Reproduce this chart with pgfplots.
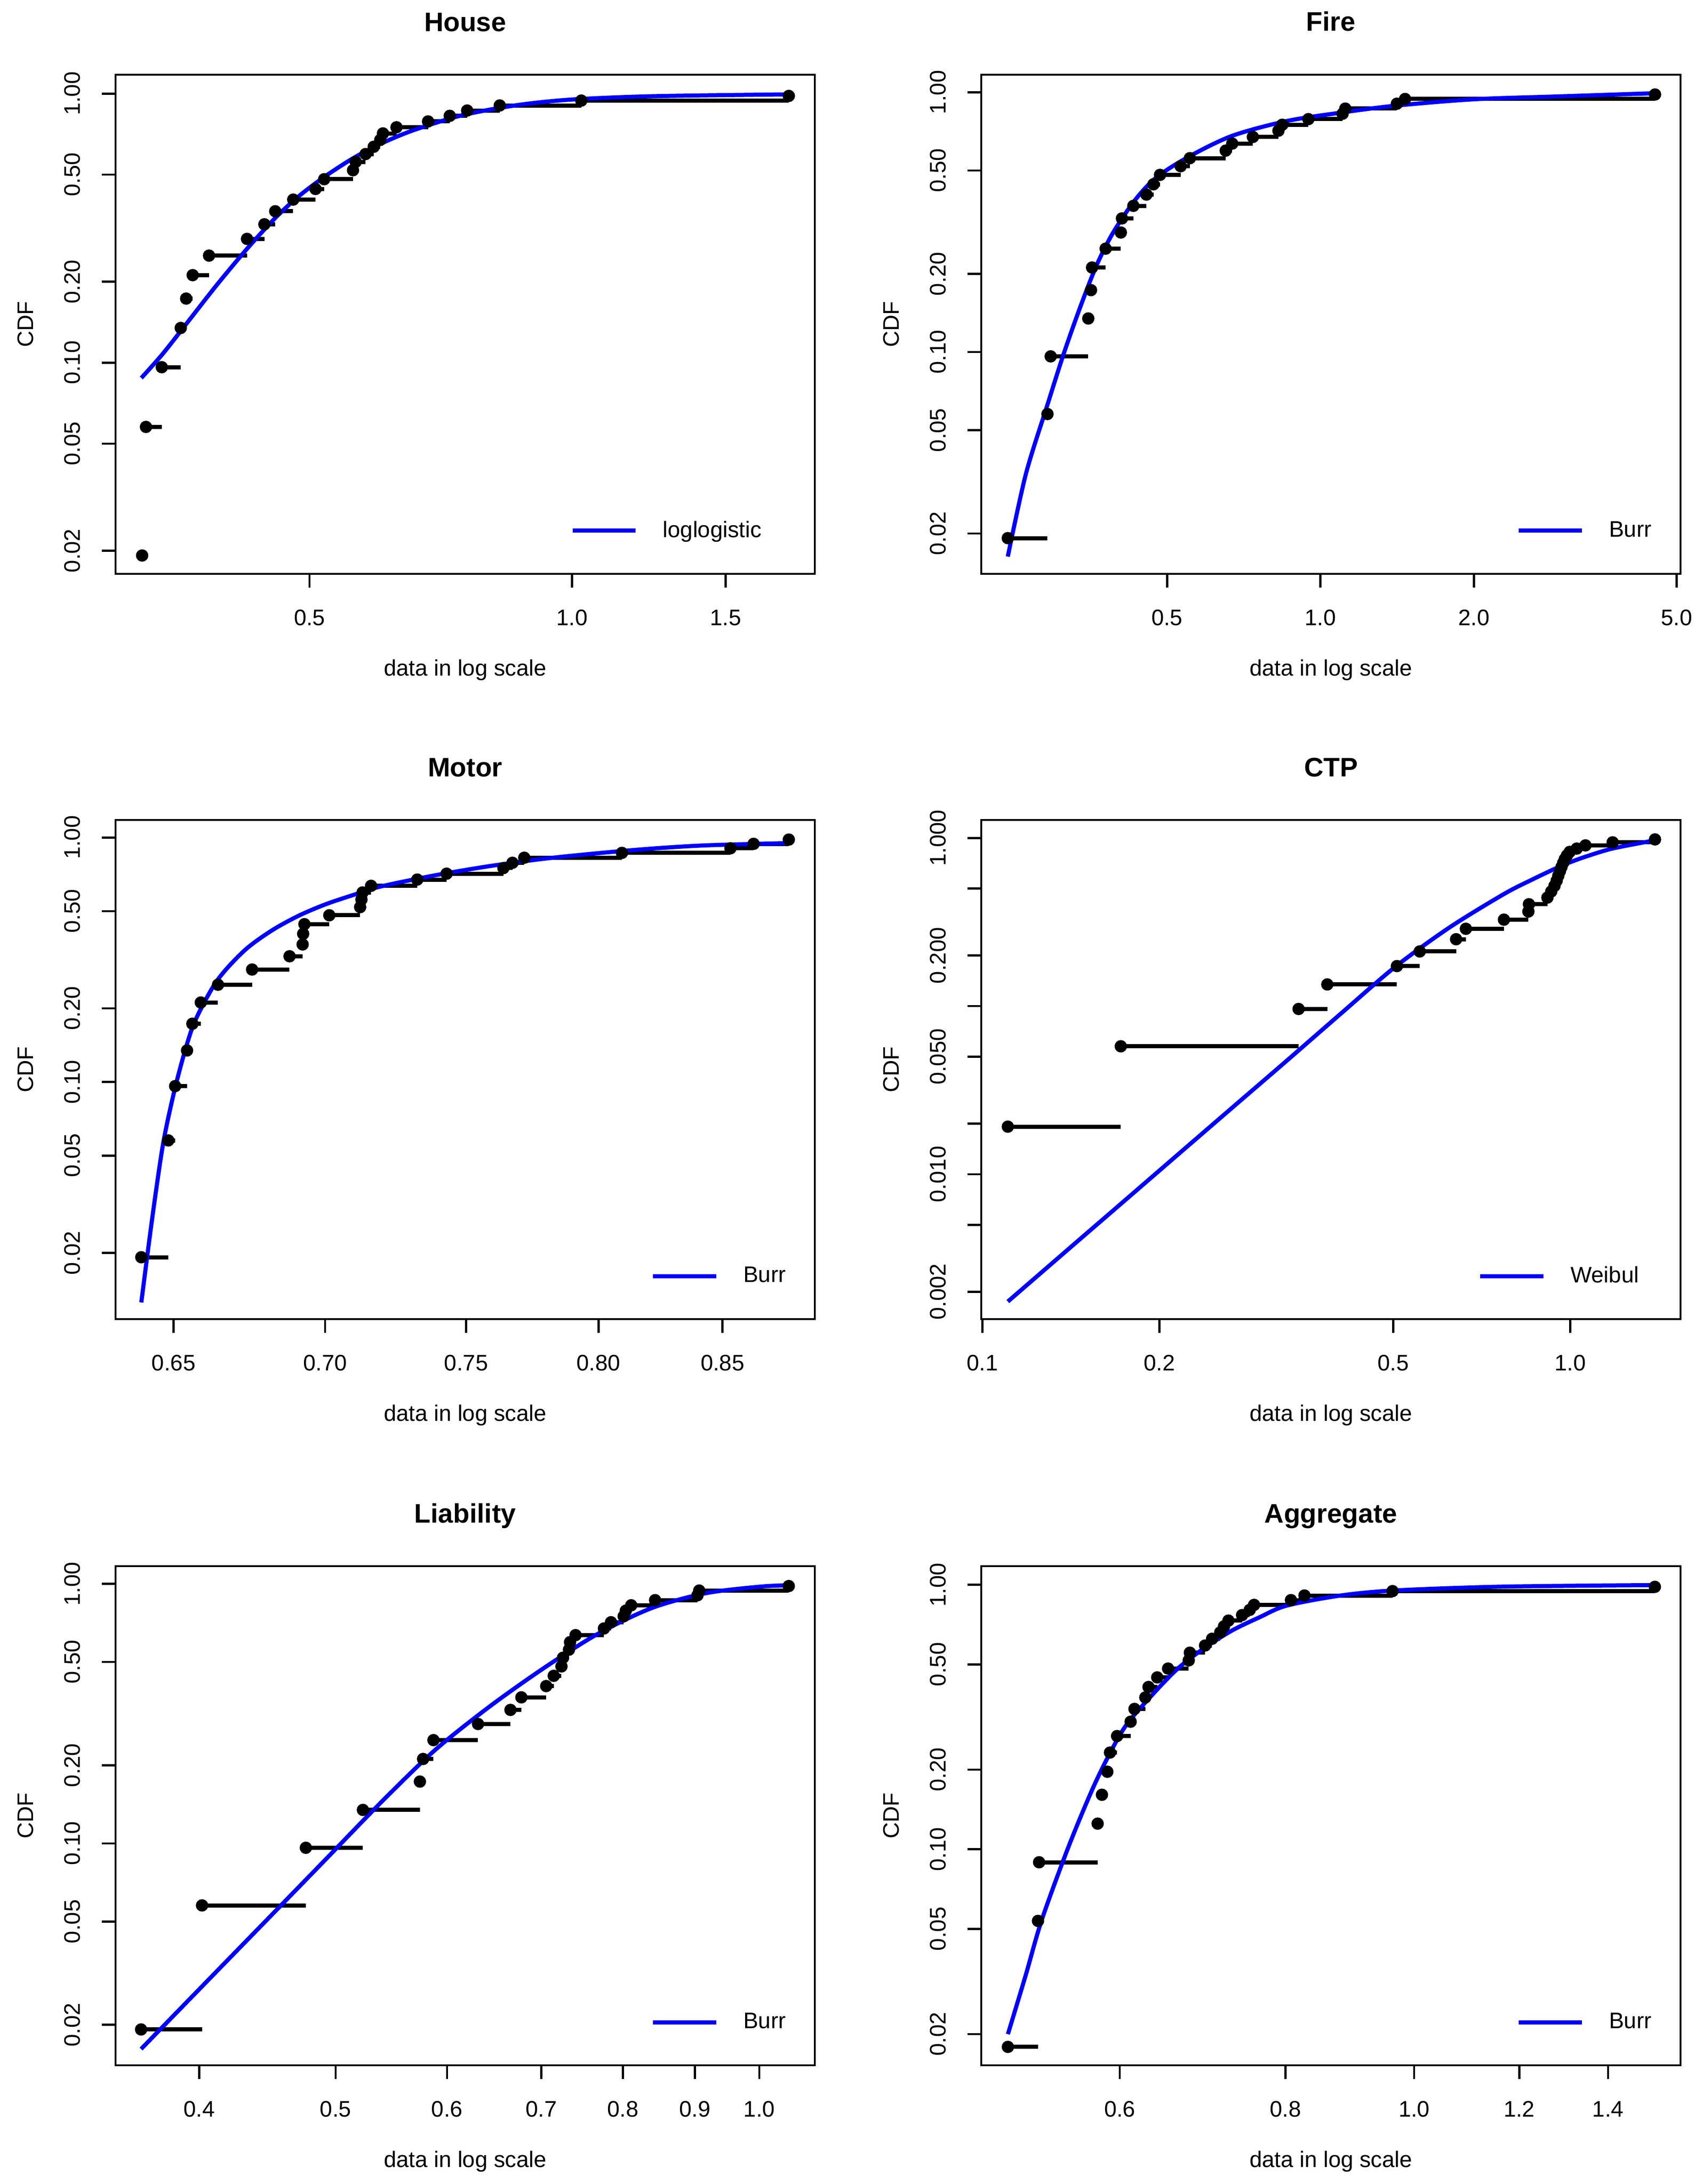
\documentclass[border=0pt]{standalone}
\usepackage{fontspec}
\setmainfont{Liberation Sans}
\usepackage{pgfplots}
\pgfplotsset{compat=1.18}
\usepackage{pgfplotstable}

\definecolor{rblue}{RGB}{0,0,255}

% empirical points: x, F = (i-0.5)/n
\pgfplotstableread{
x F
0.3214 0.0192
0.3247 0.0577
0.3385 0.0962
0.3559 0.1346
0.3610 0.1731
0.3673 0.2115
0.3835 0.2500
0.4239 0.2885
0.4438 0.3269
0.4567 0.3654
0.4789 0.4038
0.5079 0.4423
0.5197 0.4808
0.5608 0.5192
0.5648 0.5577
0.5797 0.5962
0.5923 0.6346
0.6026 0.6731
0.6069 0.7115
0.6290 0.7500
0.6837 0.7885
0.7240 0.8269
0.7580 0.8654
0.8261 0.9038
1.0245 0.9423
1.7720 0.9808
}\house

\pgfplotstableread{
x F
0.2435 0.0192
0.2913 0.0577
0.2956 0.0962
0.3503 0.1346
0.3546 0.1731
0.3563 0.2115
0.3789 0.2500
0.4058 0.2885
0.4078 0.3269
0.4294 0.3654
0.4555 0.4038
0.4702 0.4423
0.4843 0.4808
0.5317 0.5192
0.5543 0.5577
0.6517 0.5962
0.6712 0.6346
0.7367 0.6731
0.8270 0.7115
0.8413 0.7500
0.9467 0.7885
1.1050 0.8269
1.1186 0.8654
1.4122 0.9038
1.4653 0.9423
4.5330 0.9808
}\fire

\pgfplotstableread{
x F
0.6398 0.0192
0.6483 0.0577
0.6505 0.0962
0.6543 0.1346
0.6560 0.1731
0.6587 0.2115
0.6643 0.2500
0.6754 0.2885
0.6879 0.3269
0.6923 0.3654
0.6925 0.4038
0.6929 0.4423
0.7014 0.4808
0.7121 0.5192
0.7125 0.5577
0.7129 0.5962
0.7159 0.6346
0.7322 0.6731
0.7428 0.7115
0.7638 0.7500
0.7672 0.7885
0.7716 0.8269
0.8092 0.8654
0.8533 0.9038
0.8630 0.9423
0.8780 0.9808
}\motor

\pgfplotstableread{
x F
0.1105 0.0192
0.1720 0.0577
0.3451 0.0962
0.3862 0.1346
0.5072 0.1731
0.5546 0.2115
0.6395 0.2500
0.6645 0.2885
0.7713 0.3269
0.8488 0.3654
0.8506 0.4038
0.9145 0.4423
0.9283 0.4808
0.9401 0.5192
0.9482 0.5577
0.9543 0.5962
0.9604 0.6346
0.9665 0.6731
0.9727 0.7115
0.9790 0.7500
0.9873 0.7885
0.9979 0.8269
1.0259 0.8654
1.0614 0.9038
1.1806 0.9423
1.3936 0.9808
}\ctp

\pgfplotstableread{
x F
0.3637 0.0192
0.4018 0.0577
0.4762 0.0962
0.5228 0.1346
0.5739 0.1731
0.5769 0.2115
0.5868 0.2500
0.6312 0.2885
0.6656 0.3269
0.6776 0.3654
0.7057 0.4038
0.7145 0.4423
0.7235 0.4808
0.7254 0.5192
0.7325 0.5577
0.7338 0.5962
0.7404 0.6346
0.7757 0.6731
0.7847 0.7115
0.8010 0.7500
0.8038 0.7885
0.8110 0.8269
0.8433 0.8654
0.9039 0.9038
0.9064 0.9423
1.0495 0.9808
}\liab

\pgfplotstableread{
x F
0.4941 0.0179
0.5206 0.0536
0.5216 0.0893
0.5774 0.1250
0.5817 0.1607
0.5872 0.1964
0.5899 0.2321
0.5972 0.2679
0.6114 0.3036
0.6155 0.3393
0.6272 0.3750
0.6307 0.4107
0.6403 0.4464
0.6525 0.4821
0.6763 0.5179
0.6776 0.5536
0.6957 0.5893
0.7043 0.6250
0.7143 0.6607
0.7190 0.6964
0.7245 0.7321
0.7419 0.7679
0.7518 0.8036
0.7575 0.8393
0.8075 0.8750
0.8267 0.9107
0.9632 0.9464
1.5186 0.9821
}\aggr

% settings shared by the six panels
\pgfplotsset{
  scale only axis, width=305bp, height=217.8bp,
  clip=false,
  axis line style={line width=0.93bp},
  tick style={line width=0.93bp, black},
  tick align=outside, major tick length=6bp, minor tick length=0pt,
  xtick pos=bottom, ytick pos=left,
  tick label style={font=\fontsize{9.8bp}{11.8bp}\selectfont},
  label style={font=\fontsize{9.8bp}{11.8bp}\selectfont},
  xticklabel style={anchor=base, yshift=-16.5bp},
  yticklabel style={xshift=-9.6bp, rotate=90, anchor=base},
  xlabel style={at={(axis description cs:0.5,-0.204)}, anchor=base},
  ylabel style={at={(axis description cs:-0.118,0.5)}, anchor=base},
  title style={at={(axis description cs:0.5,1.0872)}, anchor=base, yshift=-6pt,
    font=\bfseries\fontsize{11.7bp}{14bp}\selectfont},
  legend style={draw=none, fill=none, inner sep=0pt, column sep=11bp,
    nodes={inner sep=0pt}, anchor=west,
    font=\fontsize{9.8bp}{11.8bp}\selectfont},
  legend image code/.code={\draw[#1] (0bp,0bp) -- (27.5bp,0bp);},
}

\begin{document}
\begin{tikzpicture}
\path[use as bounding box] (0,0) rectangle (742.8bp,953bp);

% House
\begin{loglogaxis}[anchor=south west, at={(50.4bp,702.6bp)}, title={House},
  xlabel={data in log scale}, ylabel={CDF},
  xmin=0.2996, xmax=1.898, ymin=0.01641, ymax=1.176,
  xtick={0.5,1,1.5}, xticklabels={0.5,1.0,1.5},
  ytick={0.02,0.05,0.1,0.2,0.5,1}, yticklabels={0.02,0.05,0.10,0.20,0.50,1.00},
  legend style={at={(axis description cs:0.650,0.0863)}}]
\addplot[black, line width=1.8bp, jump mark left, no marks, forget plot] table[x=x,y=F] {\house};
\addplot[black, only marks, mark=*, mark size=2.5bp, forget plot] table[x=x,y=F] {\house};
\addplot[rblue, line width=1.8bp, smooth, no marks] coordinates {(0.3207,0.0877) (0.3395,0.108) (0.3646,0.145)
  (0.3917,0.195) (0.4239,0.265) (0.4567,0.345) (0.4857,0.415) (0.5197,0.490)
  (0.5608,0.575) (0.6026,0.650) (0.6568,0.730) (0.7470,0.830) (0.8622,0.905)
  (0.9954,0.950) (1.2347,0.978) (1.779,0.994)};
\addlegendentry{loglogistic}
\end{loglogaxis}

% Fire
\begin{loglogaxis}[anchor=south west, at={(428bp,702.6bp)}, title={Fire},
  xlabel={data in log scale}, ylabel={CDF},
  xmin=0.2160, xmax=5.087, ymin=0.01399, ymax=1.169,
  xtick={0.5,1,2,5}, xticklabels={0.5,1.0,2.0,5.0},
  ytick={0.02,0.05,0.1,0.2,0.5,1}, yticklabels={0.02,0.05,0.10,0.20,0.50,1.00},
  legend style={at={(axis description cs:0.765,0.0863)}}]
\addplot[black, line width=1.8bp, jump mark left, no marks, forget plot] table[x=x,y=F] {\fire};
\addplot[black, only marks, mark=*, mark size=2.5bp, forget plot] table[x=x,y=F] {\fire};
\addplot[rblue, line width=1.8bp, smooth, no marks] coordinates {(0.2435,0.0163) (0.2641,0.0338) (0.2913,0.0627)
  (0.3135,0.0985) (0.3376,0.1485) (0.3634,0.215) (0.3913,0.2867) (0.4315,0.382)
  (0.476,0.4694) (0.5516,0.565) (0.6712,0.68) (0.858,0.775) (1.097,0.835)
  (1.402,0.888) (2.001,0.940) (2.929,0.964) (4.533,0.992)};
\addlegendentry{Burr}
\end{loglogaxis}

% Motor
\begin{loglogaxis}[anchor=south west, at={(50.4bp,377.4bp)}, title={Motor},
  xlabel={data in log scale}, ylabel={CDF},
  xmin=0.6318, xmax=0.8892, ymin=0.01072, ymax=1.180,
  xtick={0.65,0.7,0.75,0.8,0.85}, xticklabels={0.65,0.70,0.75,0.80,0.85},
  ytick={0.02,0.05,0.1,0.2,0.5,1}, yticklabels={0.02,0.05,0.10,0.20,0.50,1.00},
  legend style={at={(axis description cs:0.765,0.0863)}}]
\addplot[black, line width=1.8bp, jump mark left, no marks, forget plot] table[x=x,y=F] {\motor};
\addplot[black, only marks, mark=*, mark size=2.5bp, forget plot] table[x=x,y=F] {\motor};
\addplot[rblue, line width=1.8bp, smooth, no marks] coordinates {(0.6398,0.01254) (0.6432,0.0275) (0.6466,0.0553)
  (0.65,0.0893) (0.6535,0.132) (0.6570,0.1794) (0.6640,0.26) (0.6729,0.345)
  (0.6819,0.416) (0.6910,0.479) (0.7002,0.5336) (0.7096,0.582) (0.7191,0.630)
  (0.7384,0.70) (0.7582,0.763) (0.7786,0.818) (0.7995,0.862) (0.8211,0.901)
  (0.8432,0.929) (0.8780,0.949)};
\addlegendentry{Burr}
\end{loglogaxis}

% CTP
\begin{loglogaxis}[anchor=south west, at={(428bp,377.4bp)}, title={CTP},
  xlabel={data in log scale}, ylabel={CDF},
  xmin=0.09958, xmax=1.5404, ymin=0.001376, ymax=1.28,
  xtick={0.1,0.2,0.5,1}, xticklabels={0.1,0.2,0.5,1.0},
  ytick={0.002,0.005,0.01,0.02,0.05,0.1,0.2,0.5,1},
  yticklabels={0.002,{},0.010,{},0.050,{},0.200,{},1.000},
  legend style={at={(axis description cs:0.710,0.0863)}}]
\addplot[black, line width=1.8bp, jump mark left, no marks, forget plot] table[x=x,y=F] {\ctp};
\addplot[black, only marks, mark=*, mark size=2.5bp, forget plot] table[x=x,y=F] {\ctp};
\addplot[rblue, line width=1.8bp, smooth, no marks] coordinates {(0.1105,0.00175) (0.1405,0.00362) (0.1739,0.00689)
  (0.2151,0.0131) (0.2661,0.0249) (0.3293,0.0473) (0.4074,0.0904) (0.5040,0.1715)
  (0.6234,0.294) (0.7711,0.464) (0.8579,0.562) (0.9543,0.671) (1.0,0.718)
  (1.066,0.778) (1.1806,0.866) (1.3936,0.969)};
\addlegendentry{Weibul}
\end{loglogaxis}

% Liability
\begin{loglogaxis}[anchor=south west, at={(50.4bp,51.8bp)}, title={Liability},
  xlabel={data in log scale}, ylabel={CDF},
  xmin=0.3488, xmax=1.0952, ymin=0.01397, ymax=1.17,
  xtick={0.4,0.5,0.6,0.7,0.8,0.9,1.0}, xticklabels={0.4,0.5,0.6,0.7,0.8,0.9,1.0},
  ytick={0.02,0.05,0.1,0.2,0.5,1}, yticklabels={0.02,0.05,0.10,0.20,0.50,1.00},
  legend style={at={(axis description cs:0.765,0.0863)}}]
\addplot[black, line width=1.8bp, jump mark left, no marks, forget plot] table[x=x,y=F] {\liab};
\addplot[black, only marks, mark=*, mark size=2.5bp, forget plot] table[x=x,y=F] {\liab};
\addplot[rblue, line width=1.8bp, smooth, no marks] coordinates {(0.3637,0.01614) (0.3769,0.01969) (0.4119,0.0323)
  (0.4501,0.0529) (0.4922,0.0871) (0.5379,0.143) (0.5878,0.228) (0.6424,0.335)
  (0.7023,0.472) (0.7673,0.640) (0.8388,0.807) (0.9169,0.921) (1.002,0.9756)
  (1.0495,0.9876)};
\addlegendentry{Burr}
\end{loglogaxis}

% Aggregate
\begin{loglogaxis}[anchor=south west, at={(428bp,51.8bp)}, title={Aggregate},
  xlabel={data in log scale}, ylabel={CDF},
  xmin=0.4718, xmax=1.5877, ymin=0.01525, ymax=1.176,
  xtick={0.6,0.8,1.0,1.2,1.4}, xticklabels={0.6,0.8,1.0,1.2,1.4},
  ytick={0.02,0.05,0.1,0.2,0.5,1}, yticklabels={0.02,0.05,0.10,0.20,0.50,1.00},
  legend style={at={(axis description cs:0.765,0.0863)}}]
\addplot[black, line width=1.8bp, jump mark left, no marks, forget plot] table[x=x,y=F] {\aggr};
\addplot[black, only marks, mark=*, mark size=2.5bp, forget plot] table[x=x,y=F] {\aggr};
\addplot[rblue, line width=1.8bp, smooth, no marks] coordinates {(0.4941,0.02) (0.5095,0.0333) (0.5241,0.0542)
  (0.5495,0.1036) (0.5763,0.1826) (0.604,0.285) (0.6331,0.378) (0.6636,0.4825)
  (0.6957,0.579) (0.7293,0.672) (0.7645,0.753) (0.8015,0.834) (0.8807,0.911)
  (0.9678,0.952) (1.1685,0.984) (1.5186,0.997)};
\addlegendentry{Burr}
\end{loglogaxis}
\end{tikzpicture}
\end{document}
